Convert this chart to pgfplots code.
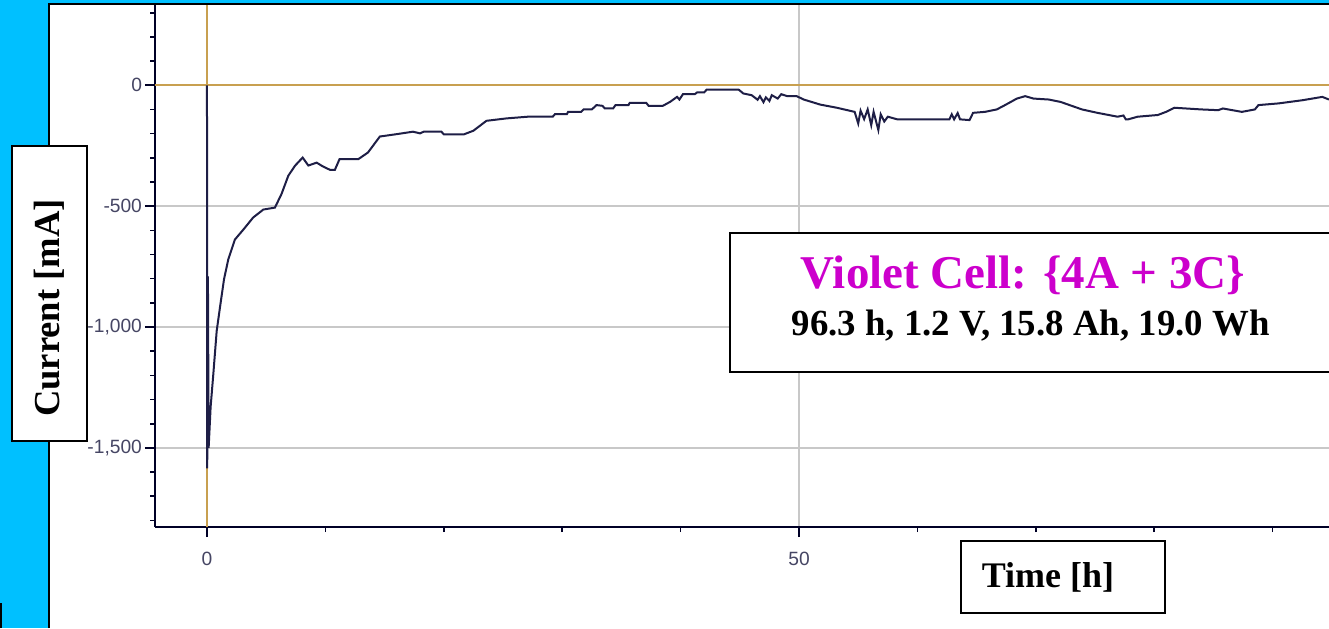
\documentclass[border=0pt]{standalone}
\usepackage{pgfplots}
\pgfplotsset{compat=1.18}
\usepackage{fontspec}
\setmainfont{Liberation Serif}
\newfontfamily\tickfont{Liberation Sans}

\definecolor{bgcyan}{RGB}{0,192,255}
\definecolor{curve}{RGB}{30,30,70}
\definecolor{zeroline}{RGB}{200,160,80}
\definecolor{gridgray}{RGB}{200,200,200}
\definecolor{ticktext}{RGB}{70,70,100}
\definecolor{violetcell}{RGB}{204,0,204}

\begin{document}
\begin{tikzpicture}
\useasboundingbox (0,0) rectangle (664.5pt,314pt);
\fill[bgcyan] (0,0) rectangle (664.5pt,314pt);
\fill[white] (24.25pt,0) rectangle (664.5pt,312pt);
\draw[black,line width=1pt] (24.25pt,0) -- (24.25pt,312pt) -- (664.5pt,312pt);
\draw[black,line width=0.8pt] (0.4pt,0) -- (0.4pt,12.5pt);

\begin{axis}[
  at={(77.5pt,50.5pt)}, anchor=south west,
  scale only axis, width=587pt, height=261pt,
  xmin=-4.39, xmax=94.76,
  ymin=-1827, ymax=332,
  axis lines*=left,
  axis line style={line width=1pt,color=black!85!blue},
  xtick={0,50}, minor xtick={10,20,30,40,60,70,80,90},
  ytick={-1500,-1000,-500,0},
  minor ytick={-1800,-1700,...,300},
  tick align=outside,
  major tick length=5pt, minor tick length=2.5pt,
  tick style={line width=0.8pt,color=black!85!blue},
  grid=major,
  major grid style={gridgray,line width=0.9pt},
  ticklabel style={font=\tickfont\fontsize{9.6}{11}\selectfont,color=ticktext},
  xticklabel style={yshift=-4pt},
  yticklabel style={xshift=2pt},
  /pgf/number format/.cd, 1000 sep={,}, assume math mode=true,
]
\addplot[zeroline,line width=0.9pt] coordinates {(-4.39,0) (94.76,0)};
\addplot[zeroline,line width=0.9pt] coordinates {(0,-1827) (0,332)};
\addplot[curve,line width=1pt] coordinates {
(0,0) (0.02,-1585) (0.08,-790) (0.14,-1500) (0.22,-1420) (0.31,-1329)
(0.53,-1198) (0.82,-1016) (1.1,-918) (1.44,-802) (1.8,-720) (2.36,-638)
(3.07,-597) (3.9,-547) (4.76,-514) (5.74,-506) (6.3,-449) (6.87,-374)
(7.43,-333) (8.08,-299) (8.56,-332) (9.26,-320) (9.8,-336) (10.4,-350)
(10.8,-350) (11.2,-305) (12.8,-305) (13.6,-278) (14.6,-212) (15.9,-203)
(17.4,-192) (18.0,-199) (18.3,-192) (19.8,-192) (20.0,-203) (21.7,-203)
(22.5,-188) (23.6,-147) (25.3,-137) (27.1,-130) (29.2,-130) (29.4,-119)
(30.4,-119) (30.5,-110) (31.6,-110) (31.8,-100) (32.5,-100) (32.9,-82)
(33.4,-85) (33.6,-96) (34.3,-96) (34.5,-82) (35.6,-82) (35.7,-73)
(37.1,-73) (37.3,-85) (38.5,-85) (39.1,-69) (39.7,-48) (39.9,-59)
(40.2,-37) (41.2,-37) (41.4,-29) (42.0,-29) (42.2,-18) (44.9,-18)
(45.3,-34) (46.0,-41) (46.3,-52) (46.5,-60) (46.7,-45) (47.0,-70)
(47.2,-50) (47.5,-65) (47.7,-41) (48.2,-55) (48.5,-37) (49.0,-45)
(49.8,-45) (50.4,-59) (51.8,-80) (53.2,-93) (54.7,-110) (55.0,-158)
(55.2,-105) (55.5,-140) (55.8,-100) (56.1,-165) (56.3,-110) (56.7,-185)
(56.9,-120) (57.2,-150) (57.5,-130) (58.3,-141) (62.7,-141) (62.9,-120)
(63.1,-141) (63.4,-115) (63.6,-141) (64.4,-144) (64.7,-114) (65.7,-110)
(66.7,-100) (67.4,-82) (68.4,-55) (69.1,-45) (69.8,-55) (71.1,-59)
(72.1,-69) (73.9,-100) (75.2,-114) (76.9,-130) (77.4,-125) (77.6,-141)
(77.8,-141) (78.6,-130) (80.3,-123) (81.0,-110) (81.7,-93) (84.0,-100)
(85.4,-103) (85.8,-96) (87.4,-110) (88.5,-100) (88.8,-82) (90.5,-75)
(92.5,-62) (94.2,-48) (94.76,-59)
};
\end{axis}

% y label box
\draw[black,line width=1.3pt,fill=white] (6pt,93.5pt) rectangle (43.5pt,241pt);
\node[rotate=90,font=\bfseries\fontsize{18.3}{20}\selectfont] at (24.5pt,160pt) {Current [mA]};
% x label box
\draw[black,line width=1.3pt,fill=white] (480.5pt,7.5pt) rectangle (582.5pt,43.5pt);
\node[font=\bfseries\fontsize{18}{20}\selectfont] at (524pt,25.5pt) {Time [h]};
% annotation box
\draw[black,line width=1pt,fill=white] (364.75pt,128pt) rectangle (680pt,197.75pt);
\node[anchor=base,inner sep=0,text=violetcell,font=\bfseries\fontsize{23.5}{26}\selectfont] at (511.5pt,169.8pt) {Violet Cell: \{4A + 3C\}};
\node[anchor=base,inner sep=0,font=\bfseries\fontsize{18.4}{20}\selectfont] at (515.3pt,146.5pt) {96.3 h, 1.2 V, 15.8 Ah, 19.0 Wh};
\end{tikzpicture}
\end{document}
